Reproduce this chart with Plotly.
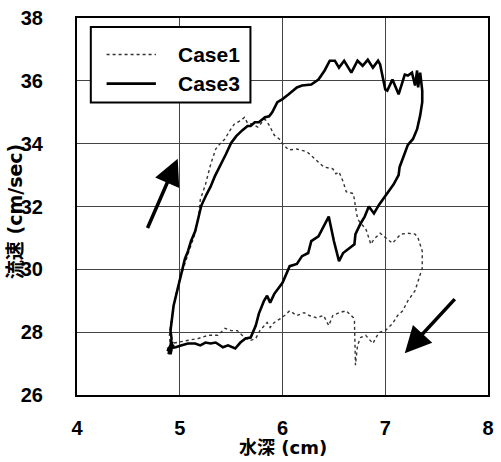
import plotly.graph_objects as go

# Hysteresis loops of flow velocity vs. water depth
case1_depth = [4.91, 4.90, 4.92, 4.95, 4.99, 5.04, 5.09, 5.14, 5.18, 5.20, 5.25, 5.30, 5.35, 5.39,
               5.44, 5.49, 5.53, 5.56, 5.60, 5.63, 5.66, 5.71, 5.76, 5.80, 5.83, 5.87, 5.92, 5.98,
               6.01, 6.06, 6.14, 6.24, 6.31, 6.40, 6.49, 6.52, 6.55, 6.59, 6.62, 6.69, 6.71, 6.73,
               6.76, 6.81, 6.86, 6.89, 6.95, 7.02, 7.07, 7.15, 7.22, 7.29, 7.32, 7.36, 7.36, 7.32,
               7.29, 7.22, 7.17, 7.12, 7.07, 7.00, 6.94, 6.91, 6.88, 6.81, 6.76, 6.73, 6.71, 6.70,
               6.69, 6.62, 6.55, 6.49, 6.45, 6.40, 6.33, 6.26, 6.21, 6.14, 6.07, 6.02, 5.98, 5.92,
               5.88, 5.85, 5.78, 5.74, 5.69, 5.63, 5.56, 5.50, 5.44, 5.37, 5.28, 5.18, 5.08, 4.99,
               4.92]
case1_speed = [27.50, 27.90, 28.43, 29.00, 29.57, 30.10, 30.58, 31.05, 31.59, 32.22, 32.70, 33.33,
               33.83, 33.99, 34.15, 34.43, 34.62, 34.68, 34.75, 34.84, 34.65, 34.62, 34.53, 34.68,
               34.78, 34.59, 34.27, 34.12, 33.96, 33.80, 33.83, 33.74, 33.52, 33.26, 33.20, 33.04,
               33.10, 32.79, 32.47, 32.41, 32.00, 31.62, 31.46, 31.30, 30.80, 30.96, 31.15, 30.96,
               30.83, 31.12, 31.15, 31.12, 30.99, 30.58, 30.04, 29.63, 29.32, 29.00, 28.68, 28.53,
               28.27, 28.05, 27.99, 27.83, 27.64, 27.90, 27.83, 27.58, 26.95, 28.37, 28.46, 28.68,
               28.62, 28.53, 28.21, 28.53, 28.46, 28.53, 28.62, 28.53, 28.68, 28.53, 28.43, 28.31,
               28.15, 28.31, 28.05, 27.80, 27.74, 27.83, 28.05, 28.05, 28.12, 27.90, 27.90, 27.80,
               27.74, 27.67, 27.64]

case3_depth = [4.92, 4.89, 4.93, 4.88, 4.94, 4.90, 4.92, 4.91, 4.94, 4.97, 5.02, 5.05, 5.08, 5.11,
               5.15, 5.18, 5.21, 5.26, 5.30, 5.34, 5.39, 5.45, 5.50, 5.55, 5.61, 5.66, 5.69, 5.73,
               5.77, 5.83, 5.87, 5.90, 5.95, 6.00, 6.06, 6.14, 6.19, 6.28, 6.35, 6.41, 6.46, 6.51,
               6.55, 6.60, 6.67, 6.73, 6.78, 6.83, 6.88, 6.93, 6.95, 7.00, 7.02, 7.07, 7.13, 7.19,
               7.22, 7.26, 7.29, 7.31, 7.32, 7.34, 7.36, 7.36, 7.34, 7.31, 7.27, 7.22, 7.17, 7.14,
               7.13, 7.08, 7.03, 6.98, 6.94, 6.89, 6.84, 6.80, 6.76, 6.71, 6.70, 6.65, 6.59, 6.55,
               6.50, 6.45, 6.38, 6.35, 6.28, 6.25, 6.19, 6.14, 6.07, 6.00, 5.92, 5.88, 5.85, 5.82,
               5.77, 5.74, 5.69, 5.64, 5.59, 5.54, 5.47, 5.42, 5.35, 5.30, 5.25, 5.20, 5.15, 5.08,
               5.02, 4.96, 4.89, 4.91, 4.93]
case3_speed = [27.50, 27.30, 27.70, 27.40, 27.60, 27.35, 27.80, 28.05, 28.84, 29.25, 30.01, 30.33,
               30.58, 30.90, 31.21, 31.59, 32.03, 32.38, 32.63, 32.95, 33.26, 33.67, 34.02, 34.24,
               34.43, 34.56, 34.56, 34.68, 34.68, 34.84, 34.87, 35.00, 35.32, 35.42, 35.57, 35.79,
               35.85, 35.88, 36.04, 36.33, 36.64, 36.64, 36.42, 36.64, 36.26, 36.64, 36.48, 36.67,
               36.42, 36.64, 36.52, 35.73, 35.69, 36.04, 35.57, 36.20, 36.17, 36.26, 35.85, 36.33,
               35.79, 36.26, 35.69, 35.32, 34.90, 34.46, 34.15, 33.96, 33.52, 33.26, 33.00, 32.70,
               32.47, 32.25, 32.06, 31.78, 32.00, 31.68, 31.46, 31.12, 30.80, 30.67, 30.52, 30.26,
               30.90, 31.68, 31.27, 31.05, 30.90, 30.52, 30.42, 30.17, 30.10, 29.57, 29.22, 28.94,
               29.16, 29.00, 28.59, 28.21, 27.83, 27.80, 27.67, 27.48, 27.58, 27.52, 27.67, 27.64,
               27.67, 27.58, 27.64, 27.64, 27.58, 27.52, 27.48, 27.30, 27.60]

x_ticks = [4, 5, 6, 7, 8]
y_ticks = [26, 28, 30, 32, 34, 36, 38]
series_names = ["Case1", "Case3"]

# Direction arrows: (tail depth, tail speed, head depth, head speed)
arrow_rise = (4.68, 31.27, 4.98, 33.52)
arrow_fall = (7.69, 29.10, 7.19, 27.33)

font_main = "Liberation Sans, Arial, sans-serif"
font_title = "DejaVu Sans, Noto Sans CJK JP, sans-serif"

case1_line = dict(color="#333333", width=1.4, dash="dot")
case3_line = dict(color="black", width=2.6)

fig = go.Figure()
fig.add_trace(go.Scatter(x=case1_depth, y=case1_speed, mode="lines",
                         name=series_names[0], line=case1_line))
fig.add_trace(go.Scatter(x=case3_depth, y=case3_speed, mode="lines",
                         name=series_names[1], line=case3_line))

for tx, ty, hx, hy in (arrow_rise, arrow_fall):
    fig.add_annotation(
        x=hx, y=hy, ax=tx, ay=ty, xref="x", yref="y", axref="x", ayref="y",
        showarrow=True, arrowhead=2, arrowsize=1.5, arrowwidth=3.5,
        arrowcolor="black", text="",
    )

axis_common = dict(
    showline=True, linecolor="black", linewidth=2, mirror=True,
    showgrid=True, gridcolor="#444444", gridwidth=1,
    zeroline=False, ticks="",
    tickfont=dict(family=font_main, size=20, color="black", weight="bold"),
)

fig.update_xaxes(range=[4, 8], tickvals=x_ticks, ticklabelstandoff=14, **axis_common)
fig.update_yaxes(range=[26, 38], tickvals=y_ticks, ticklabelstandoff=28, **axis_common)

fig.add_annotation(
    text="水深 (cm)", xref="paper", yref="paper", x=0.5, y=-0.138,
    xanchor="center", yanchor="middle", showarrow=False,
    font=dict(family=font_title, size=18, color="black", weight="bold"),
)
fig.add_annotation(
    text="流速 (cm/sec)", xref="paper", yref="paper", x=-0.149, y=0.487,
    xanchor="center", yanchor="middle", showarrow=False, textangle=-90,
    font=dict(family=font_title, size=19, color="black", weight="bold"),
)

# Legend box with line samples and labels
fig.add_shape(type="rect", xref="paper", yref="paper", x0=0.0336, x1=0.422, y0=0.776, y1=0.976,
              line=dict(color="black", width=2), fillcolor="white", layer="above")
legend_rows = [(0.903, case1_line), (0.826, case3_line)]
for name, (ly, style) in zip(series_names, legend_rows):
    fig.add_shape(type="line", xref="paper", yref="paper", x0=0.072, x1=0.192, y0=ly, y1=ly,
                  line=style, layer="above")
    fig.add_annotation(
        text=name, xref="paper", yref="paper", x=0.240, y=ly,
        xanchor="left", yanchor="middle", showarrow=False,
        font=dict(family=font_main, size=21, color="black", weight="bold"),
    )

fig.update_layout(
    width=501, height=462,
    margin=dict(l=77, r=7, t=15, b=67),
    paper_bgcolor="white", plot_bgcolor="white",
    showlegend=False,
)

fig.write_html("out.html")
